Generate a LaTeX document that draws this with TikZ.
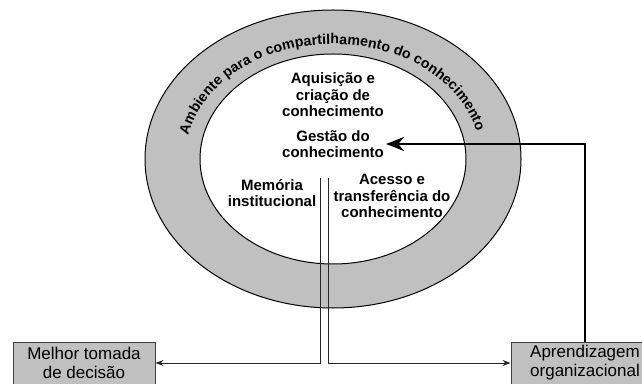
\documentclass[tikz,border=0pt]{standalone}
\usepackage{fontspec}
\setmainfont{Liberation Sans}
\usetikzlibrary{arrows.meta,decorations.text}
\definecolor{ringgray}{RGB}{192,192,192}

\begin{document}
\begin{tikzpicture}[x=1pt,y=1pt,
    inner/.style={align=center,font=\bfseries\fontsize{15}{16.5}\selectfont,inner sep=2pt},
    outbox/.style={draw=black!75,fill=ringgray,line width=1pt,minimum width=142pt,minimum height=42pt,align=center,font=\fontsize{17}{19}\selectfont},
    thin arrow/.style={line width=1pt,draw=black!85,-{Stealth[length=8pt,width=6pt]}},
    thick arrow/.style={line width=2.8pt,-{Stealth[length=18pt,width=14pt]}}]
      \useasboundingbox (0,0) rectangle (642,383);

      % ring
      \coordinate (C) at (333,224);
      \draw[fill=ringgray,even odd rule,line width=1pt] (C) ellipse [x radius=188, y radius=149] (C) ellipse [x radius=133, y radius=105];
      \path[decorate,decoration={text along path,text align=fit to path,
          text={|\bfseries\fontsize{14.2}{14.2}\selectfont|Ambiente para o compartilhamento do conhecimento}}]
          (C) ++(168:148 and 115) arc [start angle=168, end angle=14, x radius=148, y radius=115];

      \node[inner](aquisicao) at (333,288) {Aquisição e\\criação de\\conhecimento};
      \node[inner](gestao) at (333,239) {Gestão do\\conhecimento};
      \node[inner](memoria) at (272,190) {Memória\\institucional};
      \node[inner](acesso) at (392,187) {Acesso e\\transferência do\\conhecimento};

      \node[outbox](decisao) at (84,20) {Melhor tomada\\de decisão};
      \node[outbox,minimum width=148pt](org) at (585,20) {Aprendizagem\\organizacional};

      \coordinate (memL) at (320,205);
      \coordinate (memR) at (328,205);

      \draw [thin arrow] (memL) |- (decisao.east);
      \draw [thin arrow] (memR) |- (org.west);
      \draw [thick arrow] (org.north) |- (gestao.east);
    \end{tikzpicture}
\end{document}
